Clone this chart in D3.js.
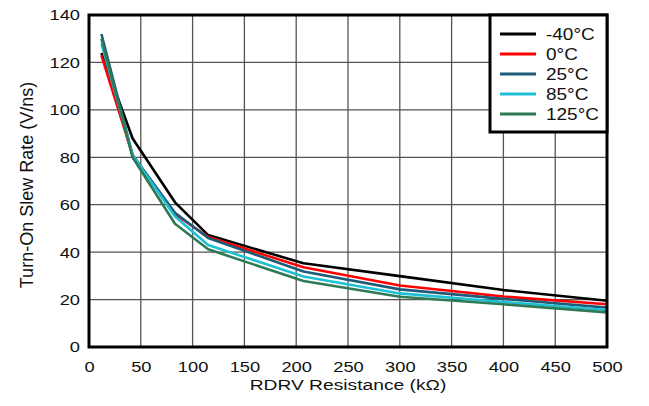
<!DOCTYPE html>
<html>
<head>
    <title>Turn-On Slew Rate vs RDRV</title>
    <script type="text/javascript" src="https://cdn.jsdelivr.net/npm/d3@7/dist/d3.min.js"></script>
    <style type="text/css">
        body { margin: 0; background: #fff; }
        text { font-family: "Liberation Sans", Arial, sans-serif; fill: #111; }
    </style>
</head>
<body>
    <svg width="649" height="406"></svg>
<script type="text/javascript">
    // resistance (kOhm)
    let rdrv = [12, 42, 83, 115, 207, 300, 400, 500];
    let slewM40 = [124, 88, 61, 47.2, 35.3, 29.9, 24, 19.5];
    let slew0 = [123, 81, 56, 46.4, 33.6, 25.9, 21.3, 18];
    let slew25 = [132, 81, 56.6, 46, 31.8, 24.3, 20.3, 16.6];
    let slew85 = [128, 81, 55, 43, 29.7, 22.6, 19, 15.6];
    let slew125 = [130, 80, 52, 41.2, 27.8, 21.2, 18, 14.6];
    let seriesNames = ["-40°C", "0°C", "25°C", "85°C", "125°C"];
    let seriesColors = ["#000000", "#ff0000", "#1d5b79", "#1ec0d6", "#2e7a55"];
    let xTicks = [0, 50, 100, 150, 200, 250, 300, 350, 400, 450, 500];
    let yTicks = [0, 20, 40, 60, 80, 100, 120, 140];

    let allSeries = [slewM40, slew0, slew25, slew85, slew125];

    let svg = d3.select("svg");
    let pLeft = 89, pRight = 607, pTop = 15, pBottom = 347;

    let x = d3.scaleLinear().domain([0, 500]).range([pLeft, pRight]);
    let y = d3.scaleLinear().domain([0, 140]).range([pBottom, pTop]);

    // the source picture is a bit wider than tall, so text gets stretched sideways
    function widen(sel, k) {
        sel.each(function() {
            let w = this.getComputedTextLength();
            d3.select(this).attr("textLength", w * k).attr("lengthAdjust", "spacingAndGlyphs");
        });
    }

    // grid
    svg.append("g").selectAll("line").data(xTicks.slice(1, -1)).enter().append("line")
        .attr("x1", d => x(d)).attr("x2", d => x(d))
        .attr("y1", pTop).attr("y2", pBottom)
        .attr("stroke", "#555").attr("stroke-width", 1.3);
    svg.append("g").selectAll("line").data(yTicks.slice(1, -1)).enter().append("line")
        .attr("x1", pLeft).attr("x2", pRight)
        .attr("y1", d => y(d)).attr("y2", d => y(d))
        .attr("stroke", "#555").attr("stroke-width", 1.3);

    // axes (labels only, ticks hidden)
    let xAxis = svg.append("g").attr("transform", "translate(0," + pBottom + ")")
        .call(d3.axisBottom(x).tickValues(xTicks).tickSize(0).tickPadding(14));
    let yAxis = svg.append("g").attr("transform", "translate(" + pLeft + ",0)")
        .call(d3.axisLeft(y).tickValues(yTicks).tickSize(0).tickPadding(9));
    [xAxis, yAxis].forEach(function(a) {
        a.select(".domain").remove();
        a.selectAll("text").attr("font-size", "15.5px")
            .attr("font-family", "Liberation Sans, Arial, sans-serif").attr("fill", "#111");
        widen(a.selectAll("text"), 1.18);
    });

    // lines
    let line = d3.line().x((d, i) => x(rdrv[i])).y(d => y(d));
    svg.append("g").selectAll("path").data(allSeries).enter().append("path")
        .attr("d", d => line(d))
        .attr("fill", "none")
        .attr("stroke", (d, i) => seriesColors[i])
        .attr("stroke-width", 2.6)
        .attr("stroke-linejoin", "round");

    // frame
    svg.append("rect")
        .attr("x", pLeft).attr("y", pTop)
        .attr("width", pRight - pLeft).attr("height", pBottom - pTop)
        .attr("fill", "none").attr("stroke", "#000").attr("stroke-width", 3);

    // legend
    let lg = svg.append("g");
    lg.append("rect").attr("x", 490).attr("y", pTop).attr("width", pRight - 490).attr("height", 117)
        .attr("fill", "#fff").attr("stroke", "#000").attr("stroke-width", 3);
    let rows = lg.selectAll("g.row").data(seriesNames).enter().append("g")
        .attr("class", "row")
        .attr("transform", (d, i) => "translate(0," + (34 + i * 20) + ")");
    rows.append("line").attr("x1", 500).attr("x2", 536).attr("y1", 0).attr("y2", 0)
        .attr("stroke", (d, i) => seriesColors[i]).attr("stroke-width", 3);
    let legendText = rows.append("text").attr("x", 546).attr("y", 0).attr("dy", "0.36em")
        .attr("font-size", "16.5px").text(d => d);
    widen(legendText, 1.15);

    // titles
    let xTitle = svg.append("text").attr("x", (pLeft + pRight) / 2).attr("y", 390)
        .attr("text-anchor", "middle").attr("font-size", "15.5px")
        .text("RDRV Resistance (kΩ)");
    widen(xTitle, 1.24);
    svg.append("text")
        .attr("transform", "translate(33,185) rotate(-90)")
        .attr("text-anchor", "middle").attr("font-size", "18px")
        .text("Turn-On Slew Rate  (V/ns)");
</script>
</body>
</html>
